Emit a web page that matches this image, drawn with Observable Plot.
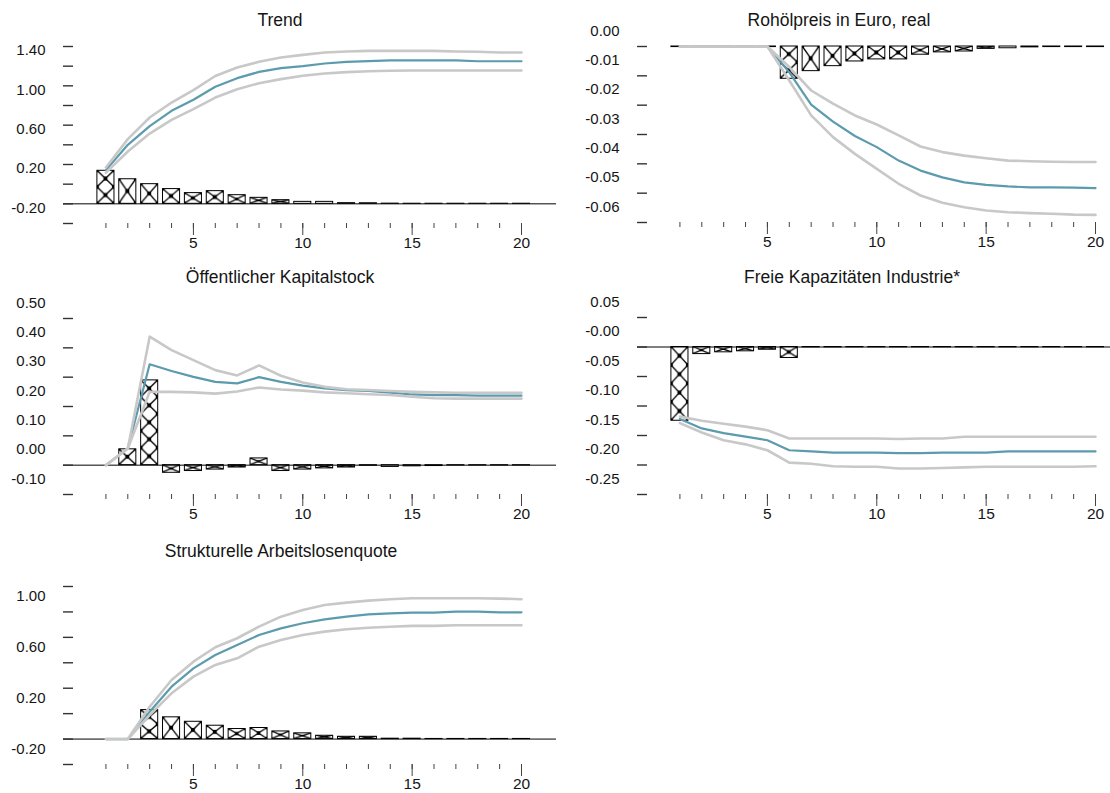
<!DOCTYPE html>
<html><head><meta charset="utf-8">
<script src="https://cdn.jsdelivr.net/npm/d3@7"></script>
<script src="https://cdn.jsdelivr.net/npm/@observablehq/plot@0.6"></script>
<style>
html,body{margin:0;padding:0;background:#fff;overflow:hidden;}
#wrap{position:relative;width:1110px;height:793px;overflow:hidden;font-family:"Liberation Sans",Arial,sans-serif;}
.panel{position:absolute;width:556px;}
.title{position:absolute;font-size:17.5px;color:#151515;transform:translate(-50%,-50%);white-space:nowrap;z-index:2;}
</style></head><body><div id="wrap"></div>
<script>
const periods = [1,2,3,4,5,6,7,8,9,10,11,12,13,14,15,16,17,18,19,20];
const majorPeriods = [5,10,15,20];

// Trend
const trendBars  = [0.336,0.25,0.20,0.15,0.109,0.129,0.088,0.061,0.037,0.02,0.02,0.007,0.006,0.002,0.001,0.001,0.001,0.001,0.001,0.001];
const trendIRF   = [0.343,0.60,0.79,0.946,1.058,1.19,1.278,1.342,1.38,1.40,1.427,1.444,1.451,1.458,1.458,1.458,1.458,1.45,1.45,1.45];
const trendUpper = [0.37,0.658,0.878,1.03,1.156,1.30,1.386,1.444,1.488,1.515,1.539,1.549,1.556,1.556,1.556,1.556,1.549,1.546,1.539,1.539];
const trendLower = [0.318,0.532,0.715,0.854,0.963,1.081,1.166,1.227,1.268,1.302,1.325,1.339,1.349,1.353,1.356,1.356,1.356,1.356,1.356,1.356];
const trendTicks = [-0.2,0,0.2,0.4,0.6,0.8,1.0,1.2,1.4,1.6];
const trendLabelValues = [-0.2,0.2,0.6,1.0,1.4];
const trendLabelTexts  = ["-0.20","0.20","0.60","1.00","1.40"];

// Rohölpreis in Euro, real
const oilBars  = [-0.0002,-0.0002,-0.0002,-0.0002,-0.0002,-0.011,-0.0084,-0.0067,-0.0051,-0.0044,-0.0044,-0.0028,-0.002,-0.0017,-0.0008,-0.0006,-0.0003,-0.0002,-0.0002,-0.0002];
const oilIRF   = [0,0,0,0,0,-0.0088,-0.0198,-0.0256,-0.0305,-0.0343,-0.0389,-0.0423,-0.0446,-0.0463,-0.0472,-0.0477,-0.048,-0.048,-0.0481,-0.0483];
const oilUpper = [0,0,0,0,0,-0.007,-0.015,-0.0195,-0.0235,-0.0266,-0.0303,-0.0341,-0.036,-0.0372,-0.0381,-0.0389,-0.0391,-0.0393,-0.0394,-0.0394];
const oilLower = [0,0,0,0,0,-0.0116,-0.0235,-0.0309,-0.0366,-0.0417,-0.0468,-0.0508,-0.0533,-0.0548,-0.0559,-0.0565,-0.0568,-0.057,-0.0573,-0.0574];
const oilTicks = [0,-0.01,-0.02,-0.03,-0.04,-0.05,-0.06];
const oilLabelValues = [0,-0.01,-0.02,-0.03,-0.04,-0.05,-0.06];
const oilLabelTexts  = ["0.00","-0.01","-0.02","-0.03","-0.04","-0.05","-0.06"];

// Öffentlicher Kapitalstock
const pubBars  = [0,0.054,0.289,-0.026,-0.020,-0.015,-0.008,0.023,-0.020,-0.015,-0.011,-0.008,-0.002,-0.006,-0.004,-0.003,-0.001,-0.001,-0.001,-0.001];
const pubIRF   = [0,0.057,0.344,0.321,0.301,0.284,0.279,0.300,0.284,0.271,0.262,0.256,0.253,0.247,0.241,0.239,0.239,0.237,0.237,0.237];
const pubUpper = [0,0.057,0.438,0.392,0.358,0.324,0.306,0.340,0.305,0.282,0.267,0.259,0.256,0.253,0.25,0.248,0.247,0.247,0.247,0.247];
const pubLower = [0,0.057,0.25,0.25,0.248,0.244,0.251,0.265,0.258,0.254,0.248,0.245,0.242,0.239,0.233,0.228,0.227,0.227,0.227,0.227];
const pubTicks = [-0.1,0,0.1,0.2,0.3,0.4,0.5];
const pubLabelValues = [-0.1,0,0.1,0.2,0.3,0.4,0.5];
const pubLabelTexts  = ["-0.10","0.00","0.10","0.20","0.30","0.40","0.50"];

// Freie Kapazitäten Industrie*
const capBars  = [-0.125,-0.012,-0.009,-0.0073,-0.0046,-0.0186,-0.0006,-0.0006,-0.0005,-0.0005,-0.0005,-0.0005,-0.0005,-0.0005,-0.0005,-0.0005,-0.0005,-0.0005,-0.0005,-0.0005];
const capIRF   = [-0.122,-0.138,-0.146,-0.152,-0.158,-0.175,-0.177,-0.179,-0.179,-0.179,-0.18,-0.18,-0.179,-0.179,-0.179,-0.177,-0.177,-0.177,-0.177,-0.177];
const capUpper = [-0.118,-0.125,-0.13,-0.135,-0.141,-0.155,-0.155,-0.155,-0.155,-0.155,-0.156,-0.155,-0.155,-0.152,-0.152,-0.152,-0.152,-0.152,-0.152,-0.152];
const capLower = [-0.129,-0.145,-0.158,-0.165,-0.175,-0.196,-0.198,-0.202,-0.203,-0.203,-0.206,-0.206,-0.205,-0.204,-0.203,-0.203,-0.203,-0.203,-0.203,-0.202];
const capTicks = [0.05,0,-0.05,-0.1,-0.15,-0.2,-0.25];
const capLabelValues = [0.05,0,-0.05,-0.1,-0.15,-0.2,-0.25];
const capLabelTexts  = ["0.05","-0.00","-0.05","-0.10","-0.15","-0.20","-0.25"];

// Strukturelle Arbeitslosenquote
const unempBars  = [0,0,0.228,0.171,0.136,0.105,0.079,0.087,0.06,0.045,0.026,0.018,0.018,0.003,0.003,0.001,0.001,0.001,0.001,0.001];
const unempIRF   = [0,0,0.215,0.412,0.556,0.661,0.74,0.819,0.871,0.911,0.942,0.963,0.981,0.989,0.994,0.994,1.002,1.002,0.997,0.997];
const unempUpper = [0,0,0.254,0.465,0.609,0.722,0.793,0.884,0.963,1.016,1.055,1.073,1.089,1.1,1.108,1.108,1.108,1.108,1.105,1.1];
const unempLower = [0,0,0.189,0.36,0.491,0.583,0.635,0.727,0.78,0.819,0.845,0.864,0.876,0.884,0.89,0.89,0.895,0.895,0.895,0.895];
const unempTicks = [-0.2,0,0.2,0.4,0.6,0.8,1.0,1.2];
const unempLabelValues = [-0.2,0.2,0.6,1.0];
const unempLabelTexts  = ["-0.20","0.20","0.60","1.00"];

const panels = [
  {key:"trend", title:"Trend", left:0, top:16, titleX:280, titleY:20, yDomain:[-0.2,1.6], ticks:trendTicks, lv:trendLabelValues, lt:trendLabelTexts, baseline:true, bars:trendBars, irf:trendIRF, up:trendUpper, lo:trendLower, innerH:177},
  {key:"oil", title:"Rohölpreis in Euro, real", left:574, top:16, titleX:839, titleY:20, yDomain:[-0.06,0], ticks:oilTicks, lv:oilLabelValues, lt:oilLabelTexts, baseline:false, bars:oilBars, irf:oilIRF, up:oilUpper, lo:oilLower, innerH:176},
  {key:"pub", title:"Öffentlicher Kapitalstock", left:0, top:288, titleX:280, titleY:277, yDomain:[-0.1,0.5], ticks:pubTicks, lv:pubLabelValues, lt:pubLabelTexts, baseline:true, bars:pubBars, irf:pubIRF, up:pubUpper, lo:pubLower, innerH:176},
  {key:"cap", title:"Freie Kapazitäten Industrie*", left:574, top:287, titleX:852, titleY:277, yDomain:[-0.25,0.05], ticks:capTicks, lv:capLabelValues, lt:capLabelTexts, baseline:true, bars:capBars, irf:capIRF, up:capUpper, lo:capLower, innerH:177},
  {key:"unemp", title:"Strukturelle Arbeitslosenquote", left:0, top:556, titleX:281, titleY:551, yDomain:[-0.2,1.2], ticks:unempTicks, lv:unempLabelValues, lt:unempLabelTexts, baseline:true, bars:unempBars, irf:unempIRF, up:unempUpper, lo:unempLower, innerH:178}
];

const wrap = document.getElementById("wrap");
const NS = "http://www.w3.org/2000/svg";
const BAR_HALF = 0.39;

function addPatterns(svg, key) {
  const rects = svg.querySelectorAll('g[aria-label="rect"] rect');
  const defs = document.createElementNS(NS, "defs");
  svg.insertBefore(defs, svg.firstChild);
  rects.forEach((r, i) => {
    const x = +r.getAttribute("x"), y = +r.getAttribute("y");
    const w = +r.getAttribute("width"), h = +r.getAttribute("height");
    if (!(h > 2) || !(w > 0)) return;
    const n = Math.max(1, Math.round(h / w));
    const th = h / n;
    const id = `pat-${key}-${i}`;
    const pat = document.createElementNS(NS, "pattern");
    pat.setAttribute("id", id);
    pat.setAttribute("patternUnits", "userSpaceOnUse");
    pat.setAttribute("x", x); pat.setAttribute("y", y);
    pat.setAttribute("width", w); pat.setAttribute("height", th);
    const add = (tag, attrs) => { const e = document.createElementNS(NS, tag); for (const k in attrs) e.setAttribute(k, attrs[k]); pat.appendChild(e); };
    add("rect", {x:0, y:0, width:w, height:th, fill:"#fff"});
    add("line", {x1:0, y1:0, x2:w, y2:th, stroke:"#000", "stroke-width":1.3});
    add("line", {x1:w, y1:0, x2:0, y2:th, stroke:"#000", "stroke-width":1.3});
    const ds = Math.min(4, th / 3);
    add("rect", {x:w/2 - ds/2, y:th/2 - ds/2, width:ds, height:ds, fill:"#000"});
    for (const [cx, cy] of [[0,0],[w,0],[0,th],[w,th]]) add("rect", {x:cx - ds/2, y:cy - ds/2, width:ds, height:ds, fill:"#000"});
    defs.appendChild(pat);
    r.setAttribute("fill", `url(#${id})`);
  });
}

for (const p of panels) {
  const rows = periods.map((t, i) => ({t, bar: p.bars[i], irf: p.irf[i], up: p.up[i], lo: p.lo[i]}));
  const labelMap = new Map(p.lv.map((v, i) => [v, p.lt[i]]));
  const marginTop = 30, marginBottom = 40;
  const plot = Plot.plot({
    width: 556, height: p.innerH + marginTop + marginBottom,
    marginLeft: 63, marginRight: 0, marginTop, marginBottom,
    x: {type: "linear", domain: [-0.94, 21.6], label: null},
    y: {type: "linear", domain: p.yDomain, label: null},
    style: {fontFamily: "'Liberation Sans', Arial, sans-serif", fontSize: "15px", color: "#151515", background: "transparent", overflow: "visible"},
    marks: [
      Plot.rect(rows, {x1: d => d.t - BAR_HALF, x2: d => d.t + BAR_HALF, y1: () => 0, y2: d => d.bar, fill: "#fff", stroke: "#000", strokeWidth: 1}),
      p.baseline ? Plot.ruleY([0], {stroke: "#000", strokeWidth: 1}) : null,
      Plot.line(rows, {x: "t", y: "irf", stroke: "#5b9bad", strokeWidth: 2.2}),
      Plot.line(rows, {x: "t", y: "up", stroke: "#c8c8c8", strokeWidth: 2.6}),
      Plot.line(rows, {x: "t", y: "lo", stroke: "#c8c8c8", strokeWidth: 2.6}),
      Plot.axisY(p.ticks, {anchor: "left", tickSize: 10, dx: 10, tickFormat: () => "", label: null, stroke: "#333", strokeWidth: 1.4}),
      Plot.text(p.lv, {y: d => d, text: d => labelMap.get(d), frameAnchor: "left", textAnchor: "end", dx: -18, dy: -15.5, fontSize: 15, fill: "#151515"}),
      Plot.axisX(periods, {anchor: "bottom", tickSize: 5, tickFormat: () => "", label: null, stroke: "#444", strokeWidth: 1}),
      Plot.axisX(majorPeriods, {anchor: "bottom", tickSize: 12, tickPadding: 1, label: null, stroke: "#444", strokeWidth: 1, fontSize: 15.5, fill: "#151515"})
    ]
  });
  addPatterns(plot, p.key);
  const div = document.createElement("div");
  div.className = "panel";
  div.style.left = p.left + "px";
  div.style.top = p.top + "px";
  div.appendChild(plot);
  wrap.appendChild(div);
  const t = document.createElement("div");
  t.className = "title";
  t.style.left = p.titleX + "px";
  t.style.top = p.titleY + "px";
  t.textContent = p.title;
  wrap.appendChild(t);
}
</script></body></html>
